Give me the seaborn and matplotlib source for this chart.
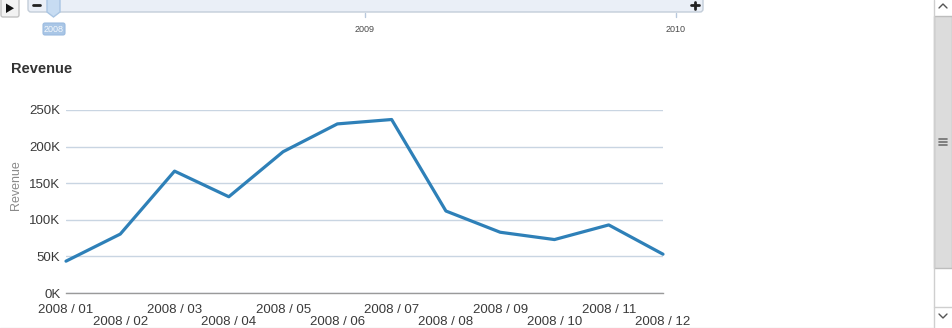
import matplotlib
matplotlib.use("Agg")
import matplotlib.pyplot as plt
from matplotlib.patches import FancyBboxPatch, Rectangle, Polygon
from matplotlib.lines import Line2D
import seaborn as sns
import pandas as pd

# Monthly revenue, 2008
months = ["2008 / 01", "2008 / 02", "2008 / 03", "2008 / 04", "2008 / 05", "2008 / 06",
          "2008 / 07", "2008 / 08", "2008 / 09", "2008 / 10", "2008 / 11", "2008 / 12"]
revenue = [43500, 80500, 166500, 131500, 193000, 231000,
           237000, 112000, 83000, 73000, 93000, 53000]
y_ticks = [0, 50000, 100000, 150000, 200000, 250000]
y_tick_labels = ["0K", "50K", "100K", "150K", "200K", "250K"]
timeline_years = ["2008", "2009", "2010"]

sns.set_theme(style="white")
plt.rcParams["font.family"] = ["Liberation Sans", "DejaVu Sans"]

W, H = 952, 328
fig = plt.figure(figsize=(W / 100, H / 100), dpi=100)


def px_box(x0, y0, x1, y1):
    return [x0 / W, (H - y1) / H, (x1 - x0) / W, (y1 - y0) / H]


ax = fig.add_axes(px_box(66, 110, 663, 293))
df = pd.DataFrame({"idx": range(len(months)), "month": months, "revenue": revenue})
sns.lineplot(data=df, x="idx", y="revenue", ax=ax, color="#2e80b8",
             linewidth=2.3, clip_on=False, zorder=3)

ax.set_xlim(0, len(months) - 1)
ax.set_ylim(0, 250000)
ax.set_yticks(y_ticks)
ax.set_yticklabels(y_tick_labels)
ax.yaxis.grid(True, color="#c9d5e2", linewidth=1.0)
ax.set_axisbelow(True)
for s in ["top", "right", "left"]:
    ax.spines[s].set_visible(False)
ax.spines["bottom"].set_color("#9a9a9a")
ax.spines["bottom"].set_linewidth(1.0)

# staggered month labels: odd months on the first row, even months below
ax.set_xticks(list(range(0, 12, 2)))
ax.set_xticklabels(months[0::2])
ax.set_xticks(list(range(1, 12, 2)), minor=True)
ax.set_xticklabels(months[1::2], minor=True)
ax.tick_params(axis="x", which="major", length=0, pad=8, labelsize=9.5, labelcolor="#3a3a3a")
ax.tick_params(axis="x", which="minor", length=0, pad=16.5, labelsize=9.5, labelcolor="#3a3a3a")
ax.tick_params(axis="y", length=0, pad=4, labelsize=9.5, labelcolor="#3a3a3a")
ax.set_xlabel("")
ax.set_ylabel("")

# overlay in pixel coordinates for titles, timeline and scrollbar
ov = fig.add_axes([0, 0, 1, 1], zorder=5)
ov.set_xlim(0, W)
ov.set_ylim(H, 0)
ov.axis("off")
ov.patch.set_alpha(0)

ov.text(11, 69, "Revenue", fontsize=10.5, fontweight="bold", color="#333333",
        ha="left", va="center")
ov.text(16, 185, "Revenue", fontsize=9, color="#8a8a8a", rotation=90,
        ha="center", va="center")

# play button
ov.add_patch(FancyBboxPatch((1, -2), 18, 19, boxstyle="round,pad=0,rounding_size=2",
                            fc="#f2f2f2", ec="#c2c2c2", lw=1))
ov.add_patch(Polygon([(6, 3.5), (6, 13), (14, 8.25)], closed=True, fc="#111111", ec="none"))

# timeline bar
ov.add_patch(FancyBboxPatch((28, -4), 675, 16, boxstyle="round,pad=0,rounding_size=3",
                            fc="#eaeff7", ec="#c3cdd9", lw=1))
ov.add_line(Line2D([33, 40], [5, 5], color="#222222", lw=2))
ov.add_line(Line2D([691, 699], [5, 5], color="#222222", lw=2))
ov.add_line(Line2D([695, 695], [1.5, 8.5], color="#222222", lw=2))
# knob
ov.add_patch(Polygon([(47, -1), (60, -1), (60, 12), (53.5, 17), (47, 12)], closed=True,
                     fc="#c7dcf2", ec="#a9c5e3", lw=1))
tick_x = [54, 365, 676]
for tx in tick_x[1:]:
    ov.add_line(Line2D([tx, tx], [13, 17], color="#b8c8dc", lw=1))
ov.add_patch(FancyBboxPatch((43, 23), 22, 12, boxstyle="round,pad=0,rounding_size=2",
                            fc="#a9c6e6", ec="#9bbbe0", lw=0.8))
for i, (tx, yr) in enumerate(zip(tick_x, timeline_years)):
    ov.text(tx, 29.5, yr, fontsize=6.5, ha="center", va="center",
            color="#f4f8fc" if i == 0 else "#4a4a4a")

# scrollbar
ov.add_line(Line2D([933.5, 933.5], [0, H], color="#cfcfcf", lw=1))
ov.add_patch(Rectangle((934, 16), 18, 252, fc="#dcdcdc", ec="#bdbdbd", lw=1))
for gy in [139, 142, 145]:
    ov.add_line(Line2D([939, 947], [gy, gy], color="#6f6f6f", lw=1.2))
ov.add_line(Line2D([934, 952], [307, 307], color="#cfcfcf", lw=1))
ov.add_line(Line2D([939, 943, 947], [8, 4, 8], color="#555555", lw=1))
ov.add_line(Line2D([939, 943, 947], [314, 318, 314], color="#555555", lw=1))
ov.add_line(Line2D([0, 933], [327.5, 327.5], color="#e2e2e2", lw=1))

fig.savefig("out.png", dpi=100)
